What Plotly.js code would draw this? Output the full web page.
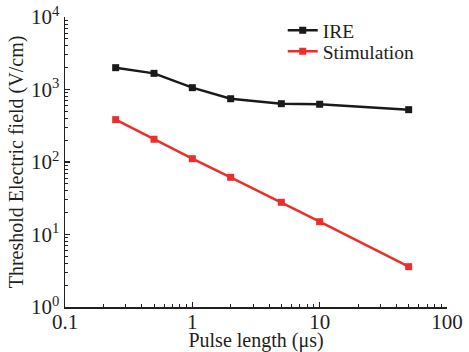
<!DOCTYPE html>
<html>
<head>
<meta charset="utf-8">
<script src="https://cdn.plot.ly/plotly-3.0.1.min.js"></script>
<style>html,body{margin:0;padding:0;background:#fff;}#chart{width:469px;height:352px;}</style>
</head>
<body>
<div id="chart"></div>
<script>
const pulseLength = [0.25, 0.5, 1, 2, 5, 10, 50];
const ireField = [2000, 1670, 1060, 746, 637, 626, 527];
const stimField = [384, 206, 111, 61.5, 27.8, 15.0, 3.6];
const yTickVals = [1, 10, 100, 1000, 10000];
const yTickText = ['10<sup>0</sup>', '10<sup>1</sup>', '10<sup>2</sup>', '10<sup>3</sup>', '10<sup>4</sup>'];
const xTickVals = [0.1, 1, 10, 100];
const xTickText = ['0.1', '1', '10', '100'];

function minorVals(lo, hi) {
  const v = [];
  for (let e = lo; e < hi; e++) for (let m = 2; m <= 9; m++) v.push(m * Math.pow(10, e));
  return v;
}

const fam = 'Liberation Serif, Times New Roman, serif';
const col = '#231f20';
const f = s => ({family: fam, size: s, color: col});

const traces = [
  {x: pulseLength, y: ireField, name: 'IRE', mode: 'lines+markers', legend: 'legend',
   line: {color: '#1a1a1a', width: 2.5}, marker: {symbol: 'square', size: 7, color: '#1a1a1a'}},
  {x: pulseLength, y: stimField, name: 'Stimulation', mode: 'lines+markers', legend: 'legend2',
   line: {color: '#ee2c2c', width: 2.5}, marker: {symbol: 'square', size: 7, color: '#ee2c2c'}}
];

const legBase = {xanchor: 'left', yanchor: 'middle', bgcolor: 'rgba(0,0,0,0)', font: f(19.5), itemwidth: 30, borderwidth: 0};

const layout = {
  width: 469, height: 352,
  margin: {l: 65, r: 22, t: 17, b: 45, autoexpand: false},
  paper_bgcolor: '#fff', plot_bgcolor: '#fff',
  font: f(19),
  showlegend: true,
  legend: Object.assign({x: 0.57, y: 0.953}, legBase),
  legend2: Object.assign({x: 0.57, y: 0.881}, legBase),
  xaxis: {
    type: 'log', range: [-1, 2], automargin: false,
    tickvals: xTickVals, ticktext: xTickText,
    ticks: 'inside', ticklen: 5, tickwidth: 1.2, tickcolor: col,
    ticklabelstandoff: -5,
    minor: {tickmode: 'array', tickvals: minorVals(-1, 2), ticks: 'inside', ticklen: 3, tickwidth: 1, tickcolor: col, showgrid: false},
    showline: true, linecolor: col, linewidth: 1.5, mirror: false,
    showgrid: false, zeroline: false,
    tickfont: f(21),
    title: {text: 'Pulse length (μs)', font: f(20), standoff: 18}
  },
  yaxis: {
    type: 'log', range: [0, 4], automargin: false,
    tickvals: yTickVals, ticktext: yTickText,
    ticks: 'inside', ticklen: 5, tickwidth: 1.2, tickcolor: col,
    minor: {tickmode: 'array', tickvals: minorVals(0, 4), ticks: 'inside', ticklen: 3, tickwidth: 1, tickcolor: col, showgrid: false},
    showline: true, linecolor: col, linewidth: 1.5, mirror: false,
    showgrid: false, zeroline: false,
    tickfont: f(21),
    title: {text: 'Threshold Electric field (V/cm)', font: f(20), standoff: 2}
  }
};

Plotly.newPlot('chart', traces, layout, {displayModeBar: false, staticPlot: true});
</script>
</body>
</html>
